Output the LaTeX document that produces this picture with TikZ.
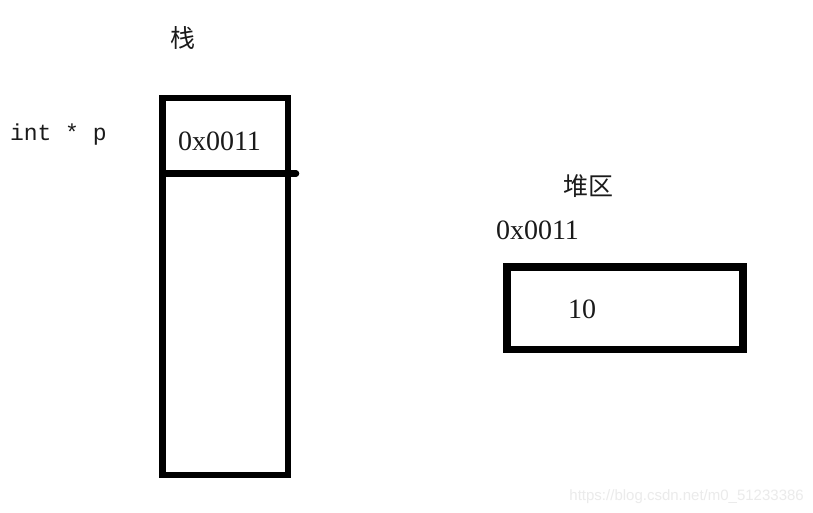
\documentclass[tikz,border=0pt]{standalone}
\usepackage{fontspec}
\setmainfont{Liberation Serif}
\newfontfamily\cjkfont{Noto Sans CJK SC}
\newfontfamily\monofont{Liberation Mono}
\newfontfamily\wmfont{Liberation Sans}
\definecolor{ink}{HTML}{1A1A1A}
\definecolor{wm}{HTML}{EBEBEB}
\begin{document}
\begin{tikzpicture}[x=1pt,y=-1pt,
  box/.style={draw=black, inner sep=0pt, outer sep=0pt},
  lbl/.style={inner sep=0pt, outer sep=0pt, text=ink},
  serifnum/.style={lbl, font=\fontsize{28}{32}\selectfont},
  cjklbl/.style={lbl, font=\cjkfont\fontsize{25}{30}\selectfont},
  monolbl/.style={lbl, font=\monofont\fontsize{23}{28}\selectfont},
  wmlbl/.style={inner sep=0pt, text=wm, font=\wmfont\fontsize{15}{18}\selectfont}]
\useasboundingbox[fill=white] (0,0) rectangle (813,513);
% stack
\node[box, line width=6.5pt, minimum width=125.5pt, minimum height=377pt] (stack) at (225.25,286.5) {};
\coordinate (divR) at (296,173.5);
\draw[line width=6.5pt, line cap=round] (stack.west |- divR) -- (divR);
% heap
\node[box, line width=7.5pt, minimum width=236pt, minimum height=82.5pt] (heap) at (625,308.25) {};
% labels
\node[cjklbl] (stacklbl) at (182.5,38) {栈};
\node[monolbl, anchor=base west] (ptr) at (10,141) {int * p};
\node[serifnum, anchor=base west] (addr1) at (178,151) {0x0011};
\node[cjklbl, anchor=west] (heaplbl) at (563,186) {堆区};
\node[serifnum, anchor=base west] (addr2) at (496,239) {0x0011};
\node[serifnum, anchor=base west] (val) at (568,318) {10};
\node[wmlbl, anchor=base east] (wmark) at (804,500) {https://blog.csdn.net/m0\_51233386};
\end{tikzpicture}
\end{document}
